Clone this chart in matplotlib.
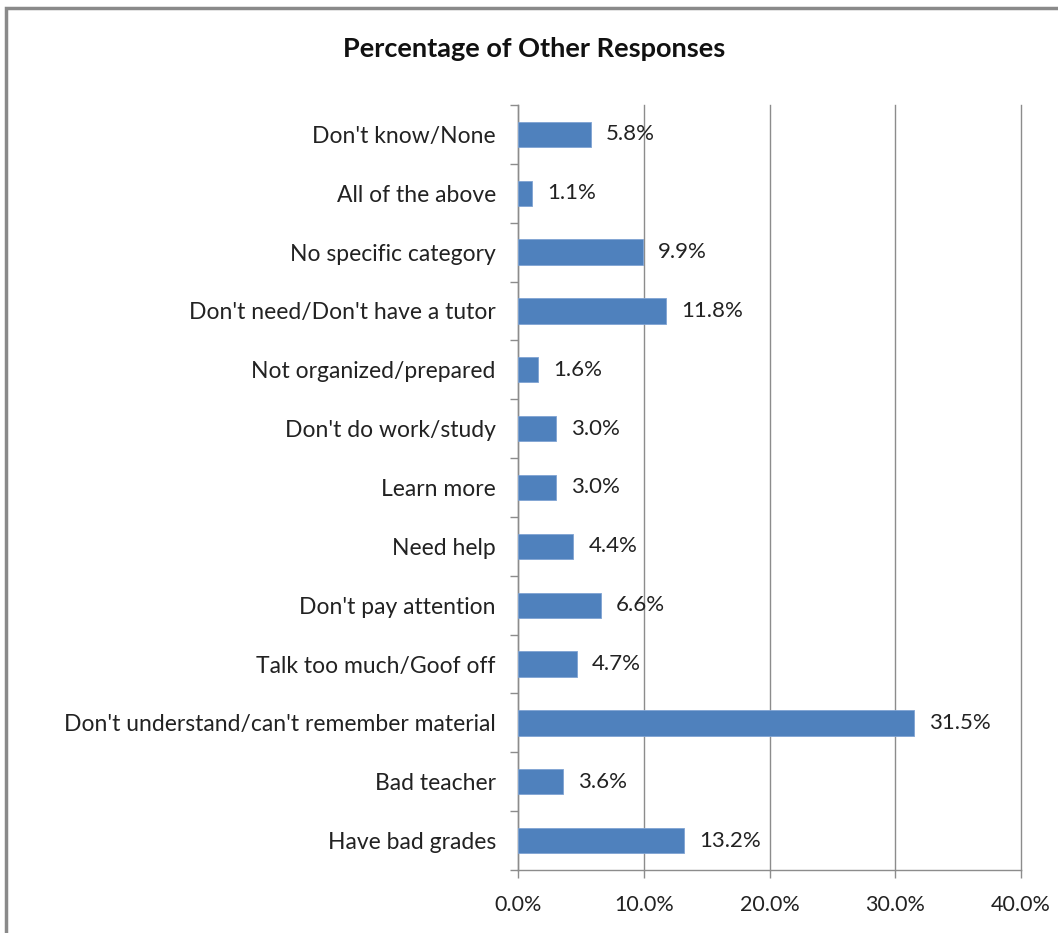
import matplotlib.pyplot as plt
from matplotlib.patches import Rectangle
from matplotlib.ticker import FuncFormatter, FixedLocator

# response categories, top to bottom
categories = [
    "Don't know/None",
    "All of the above",
    "No specific category",
    "Don't need/Don't have a tutor",
    "Not organized/prepared",
    "Don't do work/study",
    "Learn more",
    "Need help",
    "Don't pay attention",
    "Talk too much/Goof off",
    "Don't understand/can't remember material",
    "Bad teacher",
    "Have bad grades",
]
percent = [5.8, 1.1, 9.9, 11.8, 1.6, 3.0, 3.0, 4.4, 6.6, 4.7, 31.5, 3.6, 13.2]
xticks = [0, 10, 20, 30, 40]

plt.rcParams["font.family"] = ["Lato", "DejaVu Sans"]

fig = plt.figure(figsize=(10.58, 9.33), dpi=100)
ax = fig.add_axes([0.4896, 0.0675, 0.4755, 0.82])

n = len(categories)
ypos = list(range(n))[::-1]

ax.barh(ypos, percent, height=0.43, color="#4F81BD",
        edgecolor="#7FA3D3", linewidth=0.6, zorder=3)

for y, v in zip(ypos, percent):
    ax.text(v + 1.2, y, f"{v:.1f}%", va="center", ha="left",
            fontsize=16, color="#222222", zorder=4)

ax.set_xlim(0, 40)
ax.set_ylim(-0.5, n - 0.5)
ax.set_xticks(xticks)
ax.xaxis.set_major_formatter(FuncFormatter(lambda v, p: f"{v:.1f}%"))
ax.set_yticks(ypos)
ax.set_yticklabels(categories)
ax.yaxis.set_minor_locator(FixedLocator([i - 0.5 for i in range(n + 1)]))

ax.tick_params(axis="y", which="major", length=0, pad=16, labelsize=16.5,
               labelcolor="#222222")
ax.tick_params(axis="y", which="minor", length=6, color="#8c8c8c", width=1)
ax.tick_params(axis="x", length=6, color="#8c8c8c", width=1, pad=12,
               labelsize=15.5, labelcolor="#222222")

ax.grid(axis="x", color="#8c8c8c", linewidth=1, zorder=0)
for line in ax.get_xgridlines():
    line.set_clip_on(False)
for side in ["top", "right"]:
    ax.spines[side].set_visible(False)
for side in ["left", "bottom"]:
    ax.spines[side].set_color("#8c8c8c")
    ax.spines[side].set_linewidth(1)

fig.text(0.505, 0.947, "Percentage of Other Responses", ha="center",
         va="center", fontsize=19.5, fontweight="bold", color="#111111")

# outer chart border
fig.patches.append(Rectangle((6 / 1058, -0.05), 1.1, 1 - 8 / 933 + 0.05,
                             transform=fig.transFigure, fill=False,
                             edgecolor="#8a8a8a", linewidth=2.5))

fig.savefig("out.png", dpi=100)
